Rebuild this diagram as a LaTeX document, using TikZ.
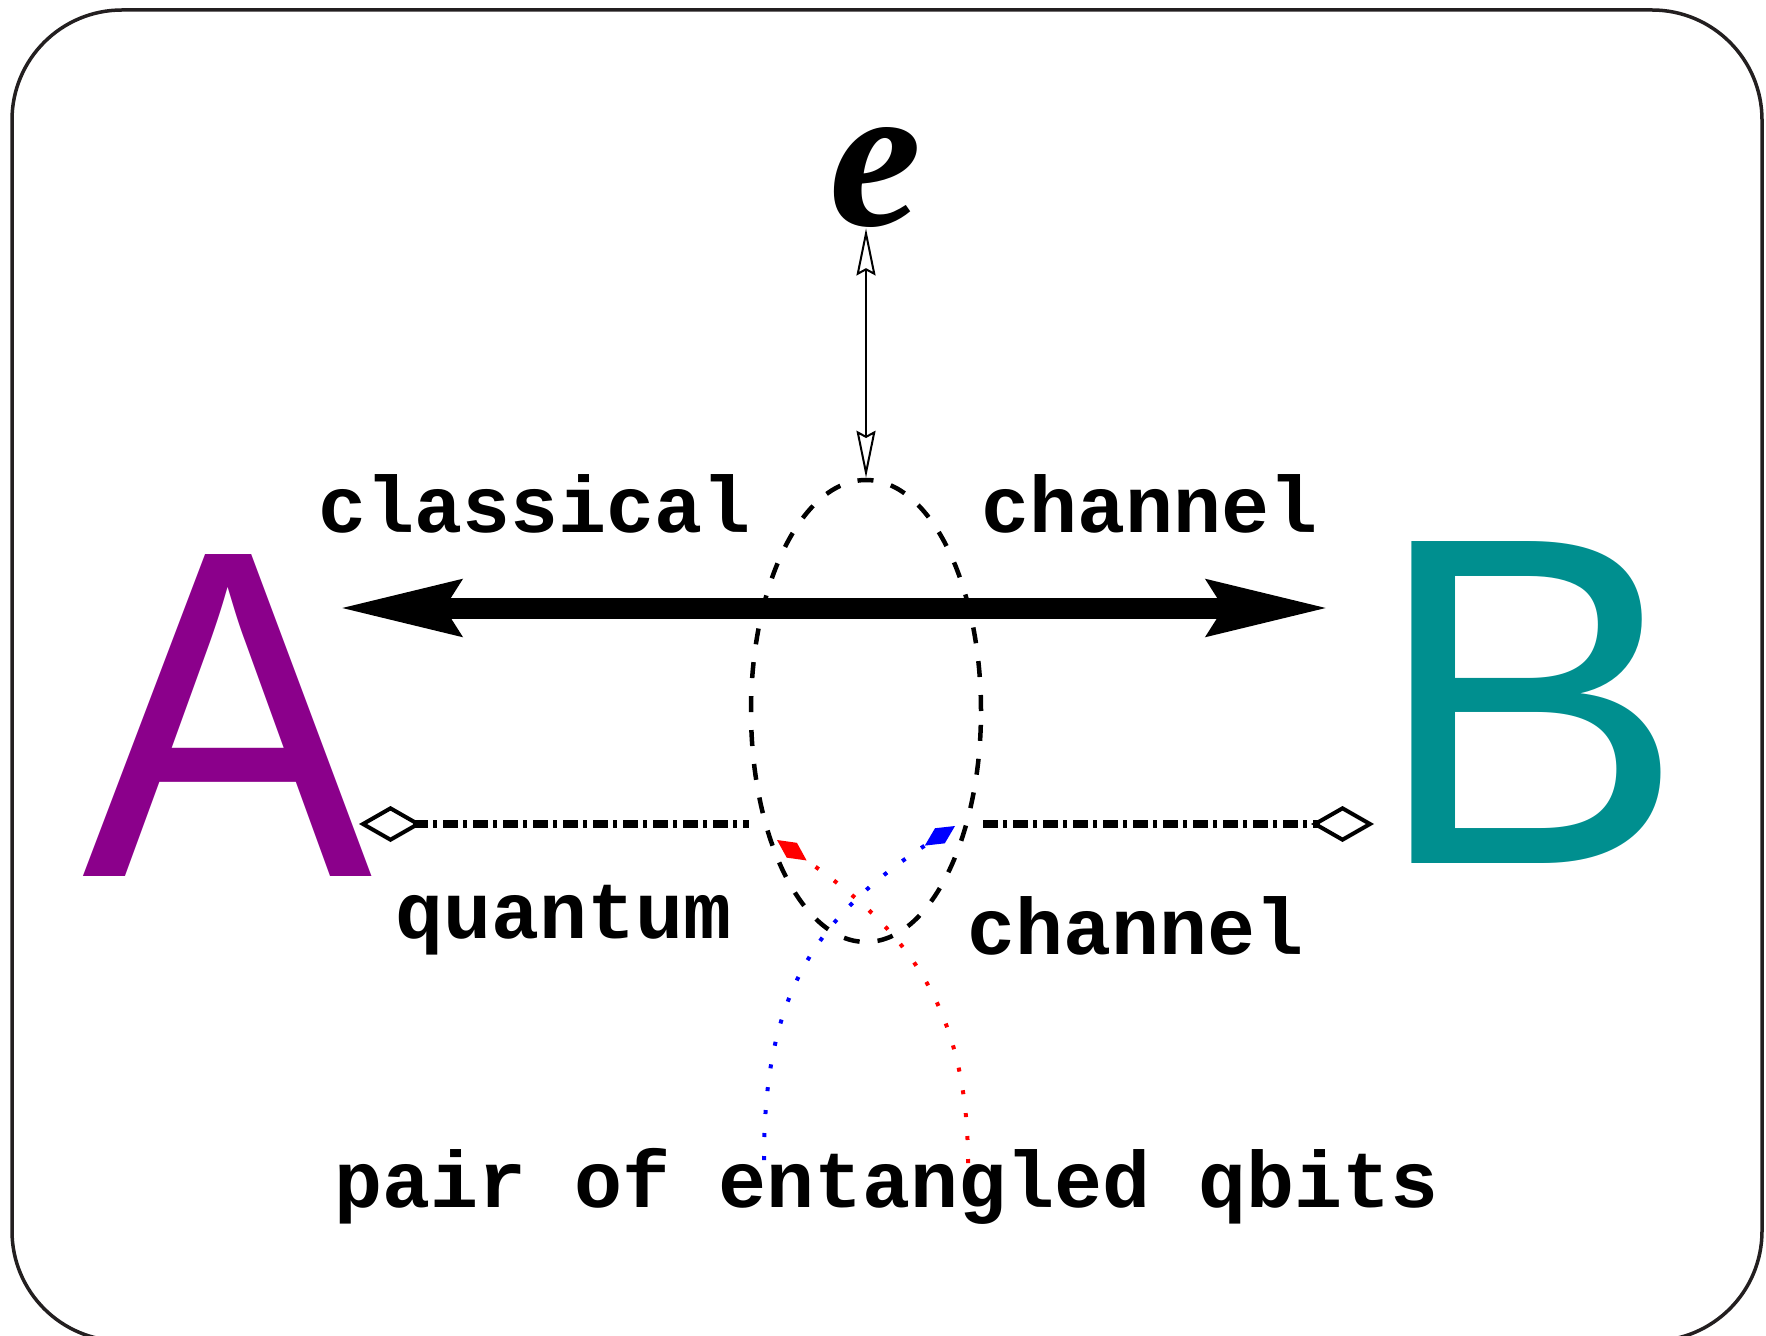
\documentclass[tikz,border=0pt]{standalone}
\usepackage{fontspec}
\setmainfont{Liberation Serif}
\setsansfont{Liberation Sans}
\setmonofont{Liberation Mono}
\newfontfamily\evefont{Liberation Serif}
\usepackage{xcolor}
\usepackage{tikz}
\usetikzlibrary{arrows.meta,shapes.geometric}

\definecolor{alicepurple}{RGB}{139,0,139}
\definecolor{bobteal}{RGB}{0,143,143}
\definecolor{framegray}{RGB}{35,31,32}

\begin{document}
\begin{tikzpicture}[
  x=0.5pt,
  y=-0.5pt,
  frame/.style={
    draw=framegray,
    line width=1.75pt,
    rounded corners=55pt
  },
  party/.style={
    anchor=base,
    inner sep=0pt,
    font=\fontsize{234}{234}\selectfont\sffamily
  },
  word/.style={
    anchor=base,
    inner sep=0pt,
    font=\fontsize{40}{48}\selectfont\ttfamily\bfseries
  },
  ring/.style={
    ellipse,
    draw,
    line width=2.25pt,
    dash pattern=on 8pt off 9pt,
    minimum width=115pt,
    minimum height=231pt,
    inner sep=0pt
  },
  classic/.style={
    line width=10.5pt,
    {Stealth[length=60pt,width=27pt,inset=7.5pt]}-{Stealth[length=60pt,width=27pt,inset=7.5pt]}
  },
  quantum/.style={
    line width=4.25pt,
    dash pattern=on 7.5pt off 2.5pt on 1.75pt off 3.25pt
  },
  probe/.style={
    line width=1pt,
    {Stealth[open,length=23.5pt,width=9.5pt,inset=2.5pt]}-{Stealth[open,length=23.5pt,width=9.5pt,inset=2.5pt]}
  },
  qbit/.style={
    line width=2pt,
    dash pattern=on 2pt off 9.5pt,
    -{Diamond[length=18pt,width=9pt]}
  }
]
\clip (0,0) rectangle (1766,1336);
\draw[frame] (12,10) rectangle (1762,1341);

\node[party,text=alicepurple] (alice) at (228,876) {\scalebox{0.93}[1]{A}};
\node[party,text=bobteal] (bob) at (1530,863) {B};
\node[anchor=base,inner sep=0pt,font=\fontsize{104}{104}\selectfont\evefont\bfseries\itshape] (eve) at (876,226) {e};

\node[ring] (ell) at (866,711) {};

\node[word] (classical) at (535,532) {classical};
\node[word] (cchannel) at (1150,532) {channel};
\node[word] (quantum) at (564,938) {quantum};
\node[word] (qchannel) at (1136,954) {channel};
\node[word] (pair) at (887,1207) {pair of entangled qbits};

\coordinate (ca) at (339,608);
\coordinate (cb) at (1329,608);
\coordinate (qa) at (359,824);
\coordinate (qb) at (1374,824);
\coordinate (pb) at (764,1160);
\coordinate (pr) at (968,1163);
\coordinate (btip) at (955,826);
\coordinate (rtip) at (777,840);

\draw[probe] (ell.north |- eve.south) -- (ell.north);
\draw[classic] (ca) -- (cb);
\draw[quantum,{Diamond[open,length=31.5pt,width=18pt,line width=2pt]}-] (qa) -- (qa -| ell.west);
\draw[quantum,-{Diamond[open,length=31.5pt,width=18pt,line width=2pt]}] (ell.east |- qb) -- (qb);
\draw[qbit,blue] (pb) .. controls (764,1000) and (810,920) .. (btip);
\draw[qbit,red] (pr) .. controls (968,1000) and (900,925) .. (rtip);
\end{tikzpicture}
\end{document}
